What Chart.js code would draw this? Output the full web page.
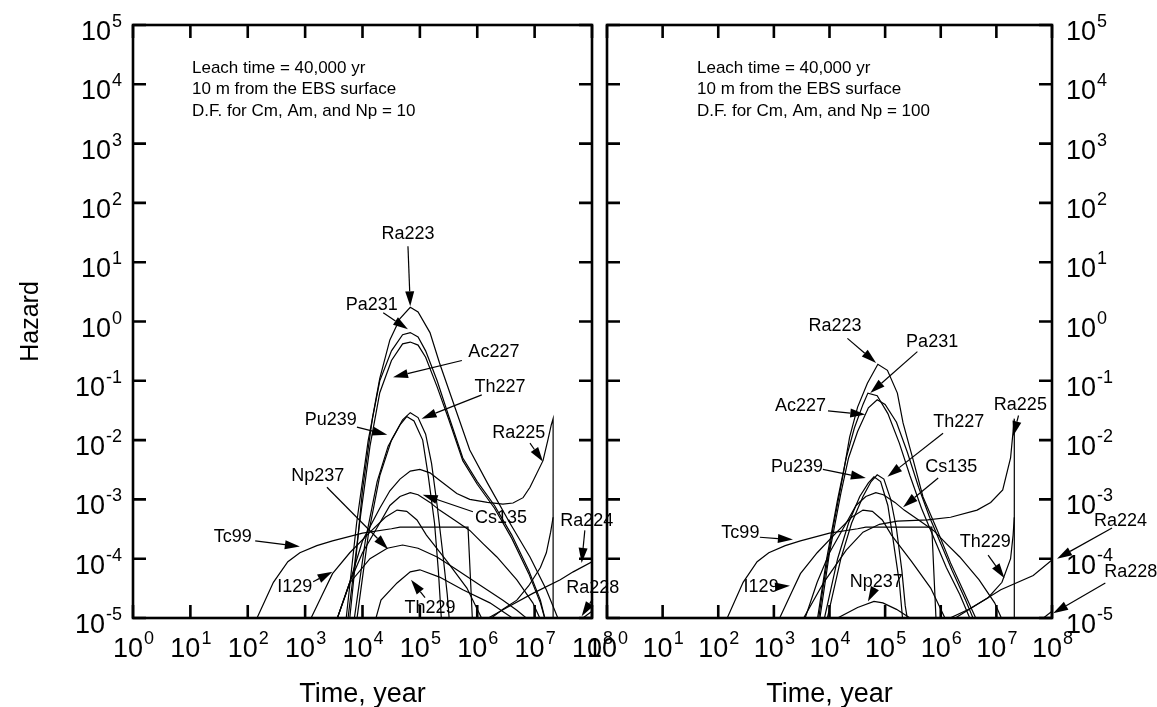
<!DOCTYPE html>
<html>
<head>
<meta charset="utf-8">
<script src="https://cdn.jsdelivr.net/npm/chart.js@4.4.1/dist/chart.umd.min.js"></script>
<style>
    html, body { margin: 0; padding: 0; background: #fff; }
    #wrap { position: relative; width: 1157px; height: 707px; }
    canvas { position: absolute; left: 0; top: 0; }
</style>
</head>
<body>
<div id="wrap">
    <canvas id="leftPanel" width="1157" height="707"></canvas>
    <canvas id="rightPanel" width="1157" height="707"></canvas>
</div>
<script>
// tick exponents (labels are drawn as 10^n)
const timeExp = [0, 1, 2, 3, 4, 5, 6, 7, 8];
const hazardExp = [-5, -4, -3, -2, -1, 0, 1, 2, 3, 4, 5];

// [time (yr), hazard]
// curves that are the same in both panels
const tc99 = [[1.26e2, 7.9e-6], [1.45e2, 1.0e-5], [2.8e2, 4.0e-5], [5.0e2, 8.9e-5], [8.1e2, 1.26e-4], [1.6e3, 1.66e-4], [3.0e3, 2.0e-4], [1.0e4, 2.7e-4], [3.2e4, 3.2e-4], [4.5e4, 3.4e-4], [6.9e5, 3.4e-4], [8.3e5, 7.9e-6]];
const i129 = [[1.2e3, 8.9e-6], [2.0e3, 2.5e-5], [3.0e3, 5.6e-5], [6.0e3, 1.26e-4], [1.35e4, 2.8e-4], [2.5e4, 5.0e-4], [4.0e4, 6.6e-4], [5.9e4, 6.3e-4], [8.9e4, 4.5e-4], [1.3e5, 2.5e-4], [3.0e5, 8.9e-5], [6.6e5, 3.2e-5], [1.26e6, 8.9e-6]];
const cs135 = [[3.5e3, 8.9e-6], [6.0e3, 4.0e-5], [1.0e4, 1.26e-4], [2.0e4, 4.0e-4], [3.0e4, 7.9e-4], [4.5e4, 1.12e-3], [6.8e4, 1.3e-3], [9.3e4, 1.2e-3], [1.5e5, 8.9e-4], [2.2e5, 6.6e-4], [4.0e5, 4.5e-4], [7.4e5, 3.0e-4], [1.26e6, 1.8e-4], [2.2e6, 1.07e-4], [4.9e6, 4.4e-5], [9.3e6, 1.8e-5], [1.3e7, 8.9e-6]];

// left panel, D.F. = 10
const ra223Left = [[5.0e3, 5.0e-6], [6.0e3, 1.0e-5], [7.9e3, 1.35e-4], [1.0e4, 1.45e-3], [1.5e4, 2.45e-2], [2.0e4, 0.11], [3.0e4, 0.49], [4.5e4, 1.12], [6.8e4, 1.74], [9.3e4, 1.45], [1.5e5, 0.65], [2.2e5, 0.20], [4.4e5, 2.9e-2], [7.4e5, 6.8e-3], [1.5e6, 1.9e-3], [3.7e6, 4.0e-4], [8.3e6, 1.07e-4], [1.6e7, 3.0e-5], [2.8e7, 7.9e-6]];
const pa231Left = [[5.2e3, 1.0e-5], [7.9e3, 4.0e-4], [1.26e4, 1.0e-2], [2.0e4, 0.1], [3.2e4, 0.32], [5.0e4, 0.60], [6.8e4, 0.65], [9.3e4, 0.55], [1.26e5, 0.32], [2.0e5, 0.1], [3.2e5, 2.5e-2], [5.6e5, 5.0e-3], [1.0e6, 2.0e-3], [2.0e6, 7.9e-4], [4.0e6, 2.5e-4], [7.9e6, 6.3e-5], [1.26e7, 2.0e-5], [1.6e7, 7.9e-6]];
const ac227Left = [[5.6e3, 1.0e-5], [8.9e3, 4.0e-4], [1.35e4, 7.9e-3], [2.0e4, 6.3e-2], [3.2e4, 0.22], [5.0e4, 0.42], [6.8e4, 0.45], [9.3e4, 0.40], [1.26e5, 0.25], [2.0e5, 7.9e-2], [3.2e5, 2.2e-2], [5.6e5, 4.5e-3], [1.0e6, 1.8e-3], [2.0e6, 7.1e-4], [4.0e6, 2.2e-4], [7.9e6, 5.6e-5], [1.26e7, 1.8e-5], [1.6e7, 7.9e-6]];
const th227Left = [[7.9e3, 8.9e-6], [1.26e4, 2.5e-4], [2.0e4, 2.5e-3], [3.2e4, 1.0e-2], [5.0e4, 2.2e-2], [6.8e4, 2.9e-2], [9.3e4, 2.4e-2], [1.26e5, 1.26e-2], [1.6e5, 4.0e-3], [2.0e5, 7.9e-4], [2.5e5, 1.26e-4], [3.0e5, 2.5e-5], [3.3e5, 7.9e-6]];
const pu239Left = [[7.1e3, 8.9e-6], [1.12e4, 2.0e-4], [1.8e4, 2.0e-3], [2.8e4, 7.9e-3], [4.5e4, 1.8e-2], [5.9e4, 2.5e-2], [7.9e4, 2.1e-2], [1.12e5, 1.0e-2], [1.4e5, 2.5e-3], [1.8e5, 4.0e-4], [2.1e5, 6.3e-5], [2.4e5, 7.9e-6]];
const ra225Left = [[3.5e3, 8.9e-6], [6.0e3, 4.0e-5], [1.0e4, 2.0e-4], [2.0e4, 7.1e-4], [3.0e4, 1.4e-3], [4.5e4, 2.2e-3], [6.8e4, 3.0e-3], [1.0e5, 3.2e-3], [1.5e5, 2.8e-3], [2.2e5, 2.1e-3], [4.4e5, 1.26e-3], [7.4e5, 1.0e-3], [1.5e6, 8.9e-4], [2.8e6, 8.3e-4], [4.2e6, 8.7e-4], [6.3e6, 1.07e-3], [8.3e6, 1.6e-3], [1.4e7, 4.5e-3], [1.7e7, 1.0e-2], [1.95e7, 1.8e-2], [2.1e7, 2.3e-2], [2.1e7, 1e-7]];
const np237Left = [[3.5e3, 8.9e-6], [6.0e3, 3.9e-5], [1.35e4, 1.0e-4], [2.7e4, 1.5e-4], [5.0e4, 1.7e-4], [9.3e4, 1.5e-4], [2.0e5, 1.07e-4], [4.4e5, 6.5e-5], [9.8e5, 3.9e-5], [2.8e6, 2.0e-5], [4.9e6, 1.35e-5], [8.3e6, 8.9e-6]];
const th229Left = [[1.66e4, 8.9e-6], [2.1e4, 2.0e-5], [4.0e4, 3.9e-5], [6.8e4, 6.0e-5], [1.0e5, 6.5e-5], [2.2e5, 4.9e-5], [5.6e5, 3.0e-5], [1.66e6, 1.8e-5], [4.9e6, 8.9e-6]];
const th229TailLeft = [[1.5e6, 8.9e-6], [2.8e6, 1.4e-5], [4.9e6, 2.0e-5], [7.9e6, 3.5e-5], [1.26e7, 7.1e-5], [1.6e7, 1.26e-4], [1.9e7, 2.8e-4], [2.1e7, 5.0e-4]];
const ra224Left = [[1.26e6, 8.9e-6], [3.3e6, 1.5e-5], [9.3e6, 2.6e-5], [2.8e7, 4.4e-5], [4.7e7, 6.0e-5], [1.0e8, 8.9e-5]];
const ra228Left = [[5.0e7, 7.9e-6], [1.0e8, 1.3e-5]];

// right panel, D.F. = 100
const ra223Right = [[6.3e3, 8.9e-6], [7.9e3, 4.0e-5], [1.15e4, 3.2e-4], [1.74e4, 2.5e-3], [2.3e4, 1.12e-2], [3.2e4, 3.6e-2], [4.8e4, 9.1e-2], [7.4e4, 0.19], [1.1e5, 0.15], [1.66e5, 6.2e-2], [2.1e5, 1.95e-2], [3.2e5, 4.6e-3], [4.8e5, 1.1e-3], [8.7e5, 3.0e-4], [1.5e6, 8.5e-5], [2.5e6, 3.0e-5], [4.5e6, 8.9e-6]];
const pa231Right = [[6.0e3, 8.9e-6], [8.9e3, 1.0e-4], [1.4e4, 1.0e-3], [2.0e4, 5.0e-3], [2.8e4, 1.6e-2], [4.0e4, 4.0e-2], [4.9e4, 6.2e-2], [7.2e4, 5.6e-2], [1.12e5, 2.8e-2], [1.8e5, 8.9e-3], [2.8e5, 2.5e-3], [4.5e5, 7.1e-4], [7.9e5, 2.0e-4], [1.26e6, 7.1e-5], [2.2e6, 2.5e-5], [3.5e6, 8.9e-6]];
const ac227Right = [[6.6e3, 8.9e-6], [1.0e4, 1.26e-4], [1.6e4, 1.26e-3], [2.2e4, 5.0e-3], [3.2e4, 1.4e-2], [5.0e4, 3.5e-2], [7.2e4, 4.8e-2], [1.0e5, 4.0e-2], [1.6e5, 2.0e-2], [2.5e5, 6.3e-3], [4.0e5, 1.6e-3], [6.3e5, 5.0e-4], [1.0e6, 1.8e-4], [1.6e6, 6.3e-5], [2.8e6, 2.0e-5], [4.0e6, 8.9e-6]];
const th227Right = [[8.9e3, 8.9e-6], [1.6e4, 1.0e-4], [2.5e4, 4.0e-4], [4.0e4, 1.12e-3], [5.6e4, 2.0e-3], [7.2e4, 2.6e-3], [9.5e4, 2.2e-3], [1.26e5, 1.0e-3], [1.6e5, 3.2e-4], [2.0e5, 6.3e-5], [2.3e5, 1.6e-5], [2.6e5, 7.9e-6]];
const pu239Right = [[7.9e3, 8.9e-6], [1.4e4, 1.0e-4], [2.2e4, 4.0e-4], [3.5e4, 1.12e-3], [5.0e4, 1.9e-3], [6.3e4, 2.4e-3], [8.3e4, 2.0e-3], [1.12e5, 7.9e-4], [1.4e5, 2.0e-4], [1.8e5, 4.0e-5], [2.1e5, 7.9e-6]];
const ra225Right = [[3.2e3, 8.9e-6], [7.9e3, 4.0e-5], [2.0e4, 1.4e-4], [4.0e4, 2.8e-4], [7.9e4, 3.8e-4], [1.66e5, 4.3e-4], [5.8e5, 4.5e-4], [1.5e6, 5.0e-4], [4.5e6, 6.6e-4], [7.9e6, 8.9e-4], [1.3e7, 1.45e-3], [1.8e7, 5.0e-3], [2.1e7, 2.3e-2], [2.1e7, 1e-7]];
const np237Right = [[1.12e4, 7.9e-6], [1.4e4, 1.0e-5], [3.2e4, 1.5e-5], [6.3e4, 1.9e-5], [9.1e4, 1.8e-5], [1.6e5, 1.4e-5], [2.8e5, 1.0e-5], [4.0e5, 7.9e-6]];
const th229TailRight = [[1.12e6, 8.9e-6], [3.2e6, 1.4e-5], [7.1e6, 2.2e-5], [1.26e7, 4.0e-5], [1.8e7, 1.0e-4], [2.0e7, 2.5e-4], [2.1e7, 5.0e-4]];
const ra224Right = [[1.5e6, 8.9e-6], [1.2e7, 3.0e-5], [4.6e7, 5.2e-5], [1.0e8, 9.5e-5]];
const ra228Right = [[6.0e7, 8.9e-6], [1.0e8, 1.3e-5]];

// label text, label centre, arrow tail, arrow tip (all in data units)
const notesLeft = [
    { text: 'Ra223', at: [6.2e4, 30], from: [6.2e4, 18.6], to: [6.8e4, 1.8] },
    { text: 'Pa231', at: [1.45e4, 1.9], from: [2.3e4, 1.4], to: [6.2e4, 0.74] },
    { text: 'Ac227', at: [1.95e6, 0.30], from: [5.4e5, 0.22], to: [3.4e4, 0.115] },
    { text: 'Th227', at: [2.5e6, 0.079], from: [1.2e6, 0.058], to: [1.07e5, 0.023] },
    { text: 'Pu239', at: [2.8e3, 0.022], from: [8.0e3, 0.0166], to: [2.7e4, 0.0123] },
    { text: 'Np237', at: [1.66e3, 2.5e-3], from: [2.4e3, 1.6e-3], to: [2.8e4, 1.45e-4] },
    { text: 'Tc99', at: [55, 2.3e-4], from: [1.35e2, 2.0e-4], to: [8.1e2, 1.6e-4] },
    { text: 'I129', at: [6.6e2, 3.3e-5], from: [1.38e3, 4.1e-5], to: [3.0e3, 6.0e-5] },
    { text: 'Cs135', at: [2.6e6, 4.9e-4], from: [8.4e5, 6.2e-4], to: [1.12e5, 1.2e-3] },
    { text: 'Th229', at: [1.5e5, 1.5e-5], from: [1.23e5, 2.2e-5], to: [7.0e4, 4.4e-5] },
    { text: 'Ra225', at: [5.3e6, 0.013], from: [8.3e6, 8.9e-3], to: [1.4e7, 4.3e-3] },
    { text: 'Ra224', at: [8.1e7, 4.4e-4], from: [7.5e7, 3.0e-4], to: [6.6e7, 8.5e-5] },
    { text: 'Ra228', at: [1.03e8, 3.2e-5], from: [1.03e8, 2.1e-5], to: [6.6e7, 1.07e-5] }
];
const notesRight = [
    { text: 'Ra223', at: [1.26e4, 0.83], from: [2.1e4, 0.52], to: [6.9e4, 0.20] },
    { text: 'Pa231', at: [7.0e5, 0.45], from: [3.8e5, 0.31], to: [5.4e4, 0.062] },
    { text: 'Ac227', at: [3.0e3, 0.038], from: [9.4e3, 0.031], to: [4.4e4, 0.027] },
    { text: 'Th227', at: [2.1e6, 0.020], from: [1.1e6, 0.013], to: [1.1e5, 2.4e-3] },
    { text: 'Pu239', at: [2.6e3, 3.5e-3], from: [7.6e3, 3.2e-3], to: [4.5e4, 2.3e-3] },
    { text: 'Cs135', at: [1.55e6, 3.5e-3], from: [9.0e5, 2.3e-3], to: [2.1e5, 7.4e-4] },
    { text: 'Tc99', at: [2.5e2, 2.7e-4], from: [5.6e2, 2.3e-4], to: [2.2e3, 2.1e-4] },
    { text: 'I129', at: [5.9e2, 3.3e-5], from: [1.3e3, 3.4e-5], to: [1.95e3, 3.5e-5] },
    { text: 'Np237', at: [6.9e4, 4.1e-5], from: [6.1e4, 2.8e-5], to: [4.9e4, 1.9e-5] },
    { text: 'Th229', at: [6.3e6, 1.9e-4], from: [7.1e6, 1.15e-4], to: [1.4e7, 4.7e-5] },
    { text: 'Ra225', at: [2.7e7, 0.039], from: [2.5e7, 0.026], to: [2.0e7, 0.0117] },
    { text: 'Ra224', at: [1.7e9, 4.4e-4], from: [1.2e9, 3.3e-4], to: [1.23e8, 1.0e-4] },
    { text: 'Ra228', at: [2.6e9, 6.0e-5], from: [9.1e8, 3.9e-5], to: [1.05e8, 1.2e-5] }
];

const headerLeft = ['Leach time = 40,000 yr', '10 m from the EBS surface', 'D.F. for Cm, Am, and Np = 10'];
const headerRight = ['Leach time = 40,000 yr', '10 m from the EBS surface', 'D.F. for Cm, Am, and Np = 100'];

const FONT = '"Liberation Sans", Arial, sans-serif';
const TICK = 13;

function toLine(arr) {
    return {
        data: arr.map(p => ({ x: p[0], y: p[1] })),
        borderColor: '#000',
        borderWidth: 1.2,
        pointRadius: 0,
        tension: 0,
        fill: false
    };
}

function drawPower(ctx, exp, x, y, align) {
    ctx.font = '27px ' + FONT;
    const wb = ctx.measureText('10').width;
    ctx.font = '18px ' + FONT;
    const we = ctx.measureText(String(exp)).width;
    let x0 = x;
    if (align === 'center') x0 = x - (wb + we) / 2;
    if (align === 'right') x0 = x - wb - we - 1;
    ctx.textAlign = 'left';
    ctx.textBaseline = 'alphabetic';
    ctx.font = '27px ' + FONT;
    ctx.fillText('10', x0, y);
    ctx.font = '18px ' + FONT;
    ctx.fillText(String(exp), x0 + wb + 1, y - 13);
}

function drawArrow(ctx, x1, y1, x2, y2) {
    const ang = Math.atan2(y2 - y1, x2 - x1);
    const len = 15, half = 4.5;
    const bx = x2 - len * Math.cos(ang), by = y2 - len * Math.sin(ang);
    ctx.lineWidth = 1.2;
    ctx.beginPath();
    ctx.moveTo(x1, y1);
    ctx.lineTo(bx, by);
    ctx.stroke();
    ctx.beginPath();
    ctx.moveTo(x2, y2);
    ctx.lineTo(bx + half * Math.sin(ang), by - half * Math.cos(ang));
    ctx.lineTo(bx - half * Math.sin(ang), by + half * Math.cos(ang));
    ctx.closePath();
    ctx.fill();
}

function makeDeco(side, header, notes) {
    return {
        id: 'deco_' + side,
        afterDraw(chart) {
            const ctx = chart.ctx;
            const a = chart.chartArea;
            const xs = chart.scales.x, ys = chart.scales.y;
            ctx.save();
            ctx.strokeStyle = '#000';
            ctx.fillStyle = '#000';

            // frame and inward ticks
            ctx.lineWidth = 2.6;
            ctx.strokeRect(a.left, a.top, a.right - a.left, a.bottom - a.top);
            ctx.beginPath();
            timeExp.forEach(e => {
                const x = xs.getPixelForValue(Math.pow(10, e));
                ctx.moveTo(x, a.bottom); ctx.lineTo(x, a.bottom - TICK);
                ctx.moveTo(x, a.top); ctx.lineTo(x, a.top + TICK);
            });
            hazardExp.forEach(e => {
                const y = ys.getPixelForValue(Math.pow(10, e));
                ctx.moveTo(a.left, y); ctx.lineTo(a.left + TICK, y);
                ctx.moveTo(a.right, y); ctx.lineTo(a.right - TICK, y);
            });
            ctx.stroke();

            // tick labels
            timeExp.forEach(e => {
                drawPower(ctx, e, xs.getPixelForValue(Math.pow(10, e)), a.bottom + 39, 'center');
            });
            hazardExp.forEach(e => {
                const y = ys.getPixelForValue(Math.pow(10, e)) + 15;
                if (side === 'left') drawPower(ctx, e, a.left - 11, y, 'right');
                else drawPower(ctx, e, a.right + 14, y, 'left');
            });

            // axis titles
            ctx.font = '27px ' + FONT;
            ctx.textAlign = 'center';
            ctx.textBaseline = 'alphabetic';
            ctx.fillText('Time, year', (a.left + a.right) / 2, 702);
            if (side === 'left') {
                ctx.save();
                ctx.translate(38, (a.top + a.bottom) / 2);
                ctx.rotate(-Math.PI / 2);
                ctx.font = '25px ' + FONT;
                ctx.fillText('Hazard', 0, 0);
                ctx.restore();
            }

            // header text
            ctx.font = '17px ' + FONT;
            ctx.textAlign = 'left';
            ctx.textBaseline = 'middle';
            const hx = side === 'left' ? a.left + 59 : a.left + 90;
            header.forEach((t, i) => ctx.fillText(t, hx, 68 + i * 21.5));

            // nuclide labels with arrows
            ctx.font = '18px ' + FONT;
            ctx.textAlign = 'center';
            notes.forEach(n => {
                ctx.fillText(n.text, xs.getPixelForValue(n.at[0]), ys.getPixelForValue(n.at[1]));
                drawArrow(ctx,
                    xs.getPixelForValue(n.from[0]), ys.getPixelForValue(n.from[1]),
                    xs.getPixelForValue(n.to[0]), ys.getPixelForValue(n.to[1]));
            });
            ctx.restore();
        }
    };
}

function makePanel(id, series, pad, deco) {
    return new Chart(document.getElementById(id), {
        type: 'line',
        data: { datasets: series.map(toLine) },
        options: {
            responsive: false,
            animation: false,
            events: [],
            layout: { padding: pad },
            plugins: { legend: { display: false }, tooltip: { enabled: false } },
            scales: {
                x: { type: 'logarithmic', min: 1, max: 1e8, display: false },
                y: { type: 'logarithmic', min: 1e-5, max: 1e5, display: false }
            }
        },
        plugins: [deco]
    });
}

makePanel('leftPanel',
    [ra223Left, pa231Left, ac227Left, th227Left, pu239Left, ra225Left, cs135, i129, tc99, np237Left, th229Left, th229TailLeft, ra224Left, ra228Left],
    { left: 133, right: 565, top: 25, bottom: 89 },
    makeDeco('left', headerLeft, notesLeft));

makePanel('rightPanel',
    [ra223Right, pa231Right, ac227Right, th227Right, pu239Right, ra225Right, cs135, i129, tc99, np237Right, th229TailRight, ra224Right, ra228Right],
    { left: 607, right: 105, top: 25, bottom: 89 },
    makeDeco('right', headerRight, notesRight));
</script>
</body>
</html>
